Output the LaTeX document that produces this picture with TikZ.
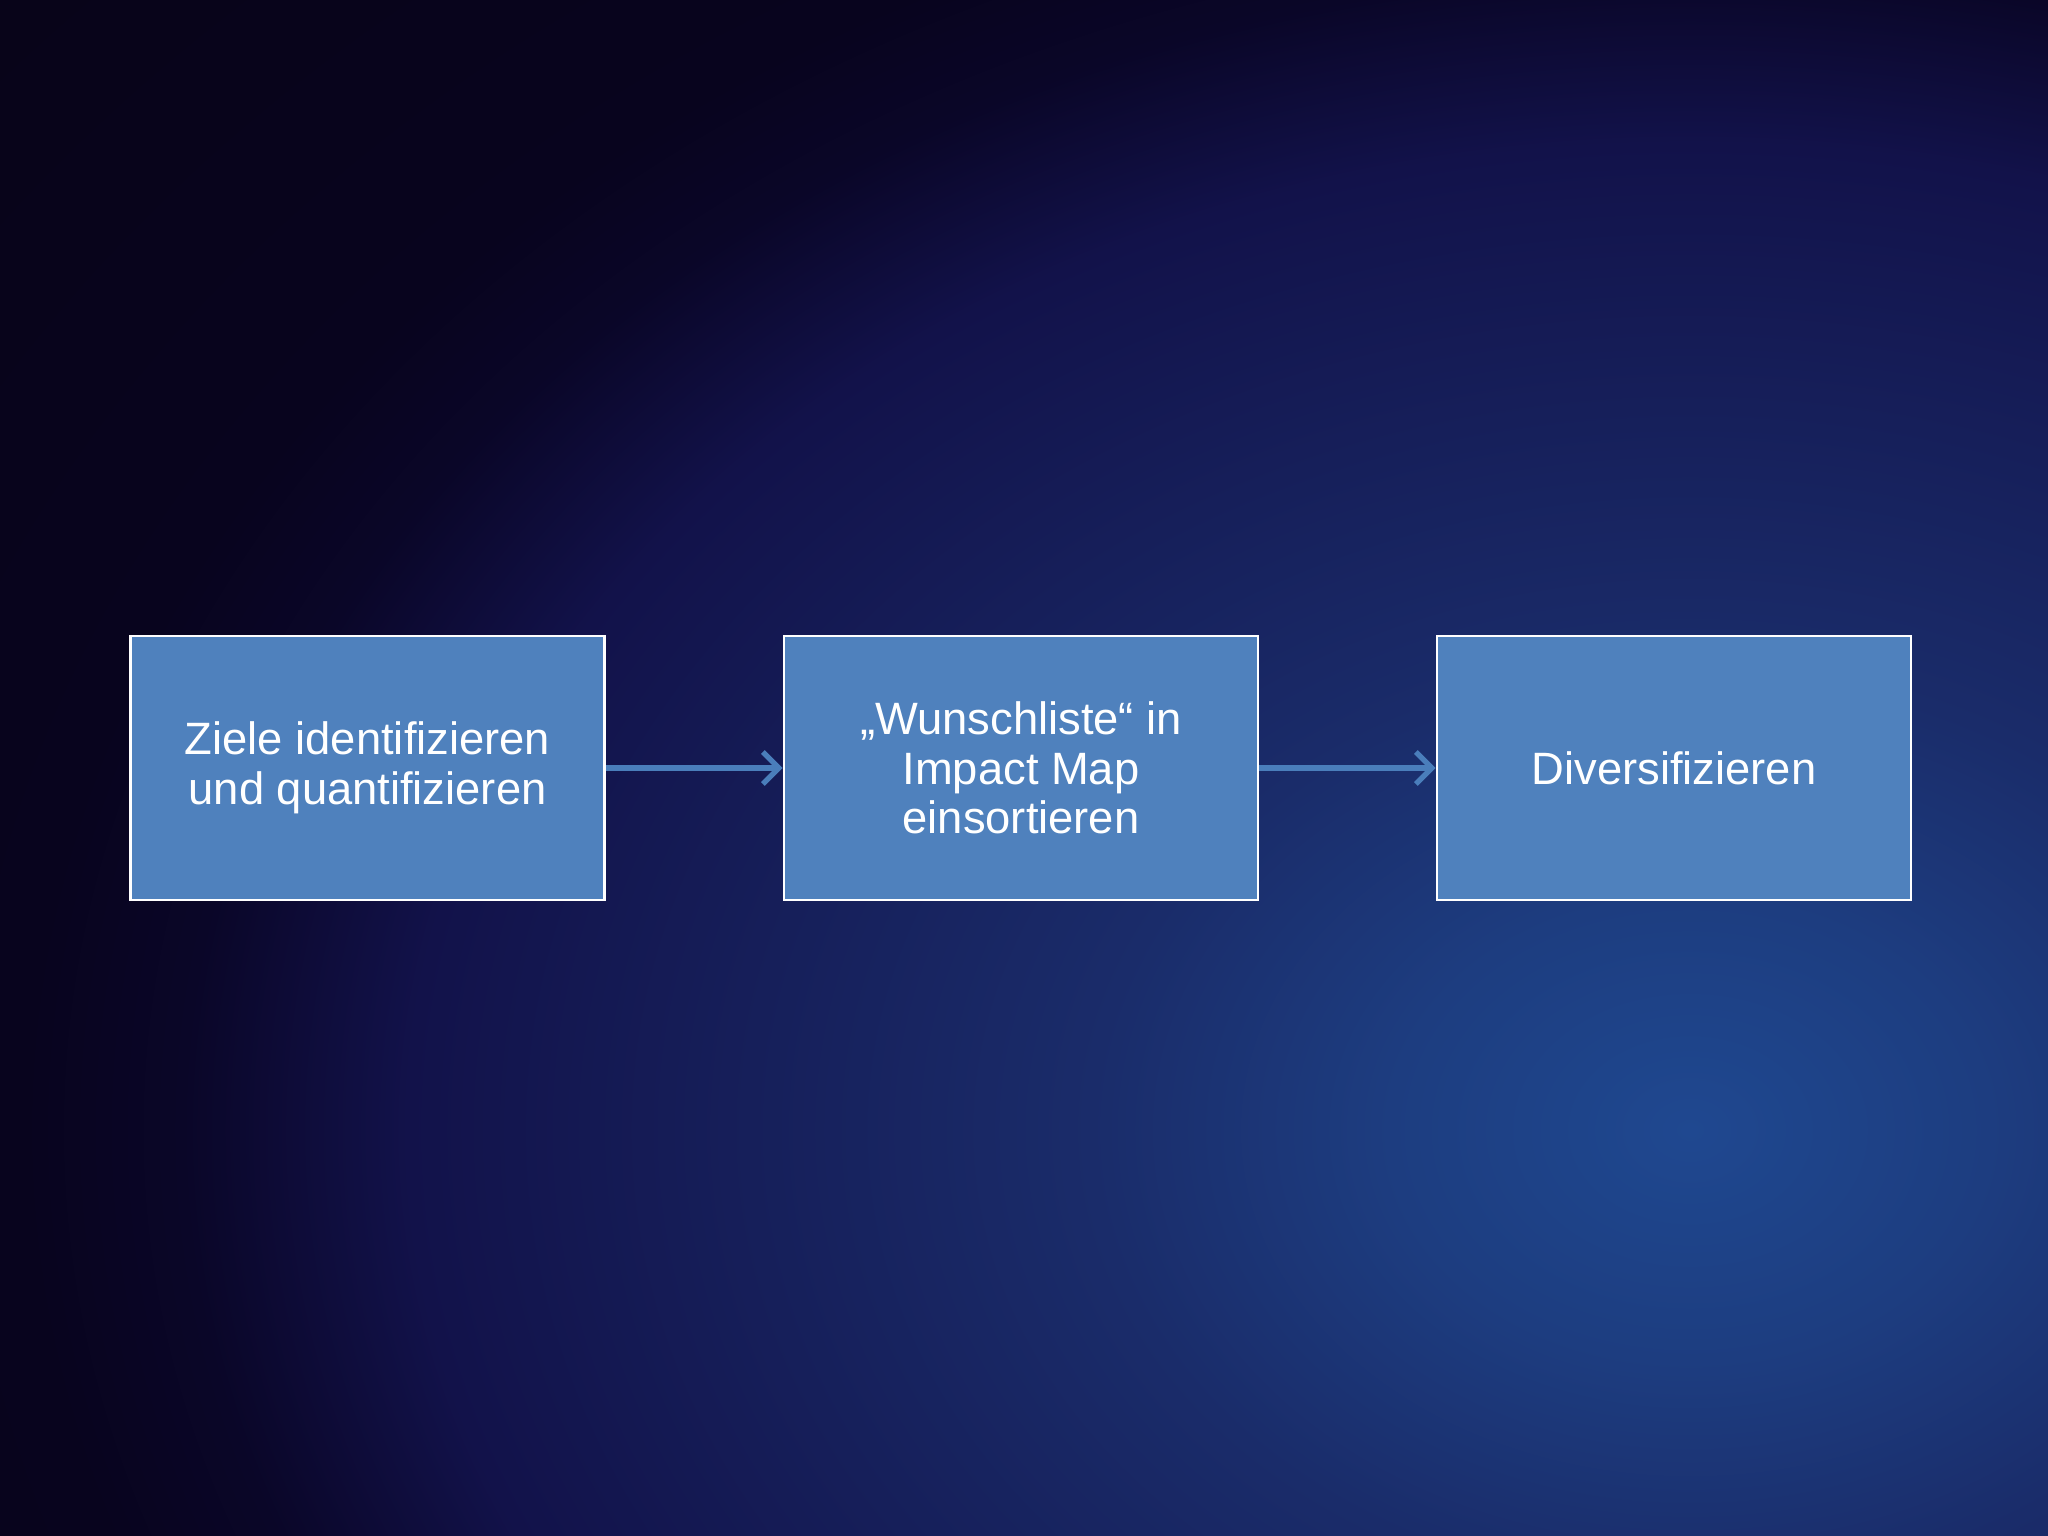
\documentclass[tikz,border=0pt]{standalone}
\usepackage{fontspec}
\setmainfont{Liberation Sans}
\usetikzlibrary{arrows.meta}
\definecolor{bgA}{HTML}{1F4890}
\definecolor{bgAB}{HTML}{1D3D80}
\definecolor{bgB}{HTML}{1A2C6A}
\definecolor{bgC}{HTML}{12124A}
\definecolor{bgD}{HTML}{0A0628}
\definecolor{bgE}{HTML}{08041E}
\definecolor{bgF}{HTML}{080418}
\definecolor{boxfill}{HTML}{4F81BD}
\definecolor{arrowcol}{HTML}{4A7EBB}
\pgfdeclareradialshading{bgshade}{\pgfpoint{0bp}{0bp}}{color(0bp)=(bgA); color(3.2bp)=(bgAB); color(6.4bp)=(bgB); color(13.7bp)=(bgC); color(16.1bp)=(bgD); color(17.8bp)=(bgE); color(25bp)=(bgF); color(50bp)=(bgF)}
\tikzset{
  stepbox/.style={draw=white, line width=0.8pt, fill=boxfill, minimum width=4.74cm, minimum height=2.64cm, inner sep=0pt, text=white, align=center, font=\fontsize{12.9}{14.1}\selectfont},
  flow/.style={draw=arrowcol, line width=1.5pt, -{Straight Barb[length=1.6mm, width=3.2mm, line width=1.5pt]}}
}
\begin{document}
\begin{tikzpicture}
\useasboundingbox (0,0) rectangle (20.48,15.36);
\begin{scope}
\clip (0,0) rectangle (20.48,15.36);
\fill[bgF] (0,0) rectangle (20.48,15.36);
\shade[shading=bgshade] (16.9,4.06) ellipse [x radius=23.4cm, y radius=18cm];
\end{scope}
\node[stepbox] (a) at (3.676,7.68) {Ziele identifizieren\\und quantifizieren};
\node[stepbox] (b) at (10.21,7.68) {„Wunschliste“ in\\Impact Map\\einsortieren};
\node[stepbox] (c) at (16.74,7.68) {Diversifizieren};
\draw[flow] (a.east) -- (b.west);
\draw[flow] (b.east) -- (c.west);
\end{tikzpicture}
\end{document}
